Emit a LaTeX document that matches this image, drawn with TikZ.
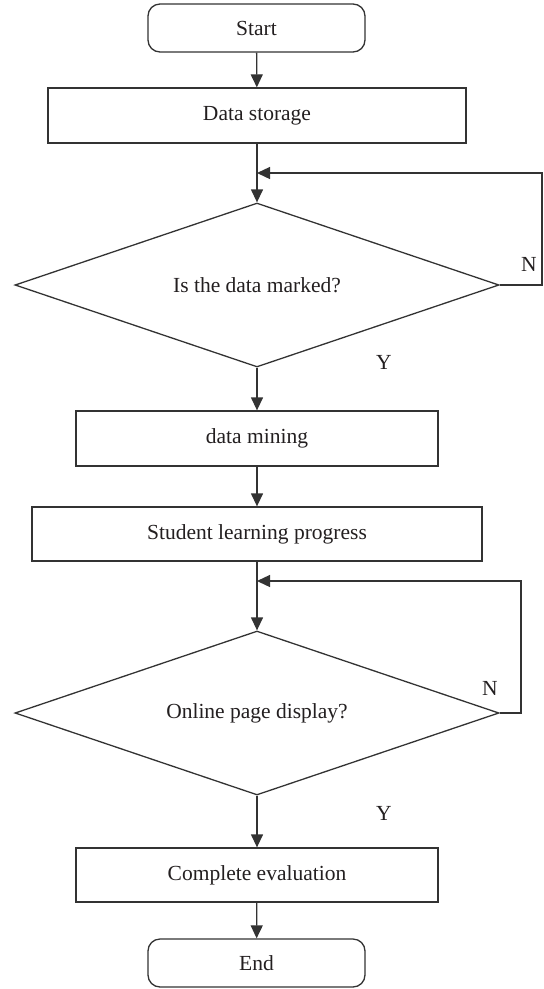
\documentclass[tikz,border=0pt]{standalone}
\usepackage{fontspec}
\setmainfont{Liberation Serif}
\usetikzlibrary{arrows.meta,shapes.geometric}
\definecolor{ln}{HTML}{333333}
\definecolor{tx}{HTML}{231F20}
\begin{document}
\begin{tikzpicture}[x=1pt,y=-1pt,
  base/.style={draw=ln, line width=1.3pt, text=tx, font=\fontsize{21.5}{25}\selectfont, inner sep=0pt},
  term/.style={base, rounded corners=12pt, minimum width=217pt, minimum height=48pt},
  proc/.style={base, rectangle, minimum height=55pt},
  dec/.style={base, diamond, minimum width=484pt, minimum height=164pt, aspect=2.9},
  arr/.style={draw=ln, line width=1.3pt, -{Triangle[length=13pt,width=12pt]}},
  lbl/.style={text=tx, font=\fontsize{21.5}{25}\selectfont, inner sep=0pt}]
\useasboundingbox (0,0) rectangle (544,989);
\node[term] (start) at (256.5,28) {Start};
\node[proc, minimum width=418pt] (store) at (257,115.5) {Data storage};
\node[dec] (dec1) at (257,285) {Is the data marked?};
\node[proc, minimum width=362pt] (mine) at (257,438.5) {data mining};
\node[proc, minimum width=450pt, minimum height=54pt] (stud) at (257,534) {Student learning progress};
\node[dec] (dec2) at (257,713) {Online page display?};
\node[proc, minimum width=362pt, minimum height=54pt] (comp) at (257,875) {Complete evaluation};
\node[term] (end) at (256.5,963) {End};

\coordinate (j1) at (257,173);
\coordinate (c1) at (542,173);
\coordinate (j2) at (257,581);
\coordinate (c2) at (521,581);

\draw[arr] (start) -- (store);
\draw[arr] (store) -- (dec1);
\draw[arr] (dec1.east) -| (c1) -- (j1);
\draw[arr] (dec1) -- (mine);
\draw[arr] (mine) -- (stud);
\draw[arr] (stud) -- (dec2);
\draw[arr] (dec2.east) -| (c2) -- (j2);
\draw[arr] (dec2) -- (comp);
\draw[arr] (comp) -- (end);

\node[lbl] (n1) at (529,264) {N};
\node[lbl] (y1) at (384,362) {Y};
\node[lbl] (n2) at (490,688) {N};
\node[lbl] (y2) at (384,813) {Y};
\end{tikzpicture}
\end{document}
